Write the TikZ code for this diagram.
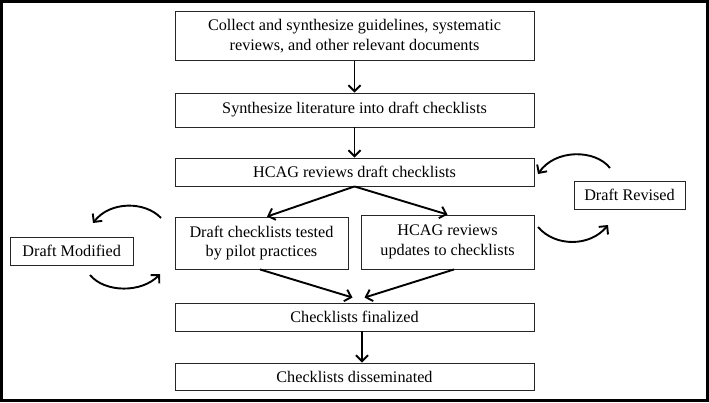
\documentclass[tikz,border=0pt]{standalone}
\usepackage{fontspec}
\setmainfont{Liberation Serif}
\usetikzlibrary{arrows.meta,calc}
\begin{document}
\begin{tikzpicture}[x=1pt,y=-1pt,
  box/.style={draw=black!85,line width=0.9pt,inner sep=0pt,align=center,font=\fontsize{16.2}{19.5}\selectfont},
  flow/.style={line width=1.9pt,-{Straight Barb[length=6pt,width=12pt,line width=1.9pt]}},
  loop/.style={line width=1.9pt,-{Straight Barb[length=6pt,width=12pt,line width=1.9pt]}}]
\useasboundingbox (0,0) rectangle (709,402);
\draw[line width=3pt] (1.5,1.5) rectangle (707.5,400.5);
\node[box,minimum width=359pt,minimum height=49pt] (b1) at (354.5,36.3) {Collect and synthesize guidelines, systematic\\reviews, and other relevant documents};
\node[box,minimum width=359pt,minimum height=34pt] (b2) at (354.5,110) {Synthesize literature into draft checklists};
\node[box,minimum width=359pt,minimum height=28pt] (b3) at (354.5,172) {HCAG reviews draft checklists};
\node[box,minimum width=173pt,minimum height=52pt] (b4) at (261.5,243) {Draft checklists tested\\by pilot practices};
\node[box,minimum width=173pt,minimum height=54pt] (b5) at (447.5,242) {HCAG reviews\\updates to checklists};
\node[box,minimum width=359pt,minimum height=28pt] (b6) at (354.5,317) {Checklists finalized};
\node[box,minimum width=359pt,minimum height=27pt] (b7) at (354.5,376.5) {Checklists disseminated};
\node[box,minimum width=123pt,minimum height=28pt] (dm) at (71.7,251) {Draft Modified};
\node[box,minimum width=111pt,minimum height=28pt] (dr) at (629.5,195) {Draft Revised};
\draw[flow] (b1.south) -- (b2.north);
\draw[flow] (b2.south) -- (b3.north);
\draw[flow] (b3.south) -- ([xshift=5.5pt]b4.north);
\draw[flow] (b3.south) -- (b5.north);
\draw[flow] ([xshift=-1.5pt]b4.south) -- ($(b6.north)+(-2,-5)$);
\draw[flow] ([xshift=6.5pt]b5.south) -- ($(b6.north)+(10,-5)$);
\draw[flow] ([xshift=7.5pt]b6.south) -- ([xshift=7.5pt]b7.north);
\coordinate (tl1) at (161,218); \coordinate (tl2) at (93,223);
\coordinate (bl1) at (90,275); \coordinate (bl2) at (160,274);
\coordinate (tr1) at (610,168); \coordinate (tr2) at (538,174);
\coordinate (br1) at (538,227); \coordinate (br2) at (608,225);
\draw[loop] (tl1) .. controls (145,201) and (110,201) .. (tl2);
\draw[loop] (bl1) .. controls (105,293) and (142,293) .. (bl2);
\draw[loop] (tr1) .. controls (595,149) and (555,149) .. (tr2);
\draw[loop] (br1) .. controls (555,247) and (590,247) .. (br2);
\end{tikzpicture}
\end{document}
